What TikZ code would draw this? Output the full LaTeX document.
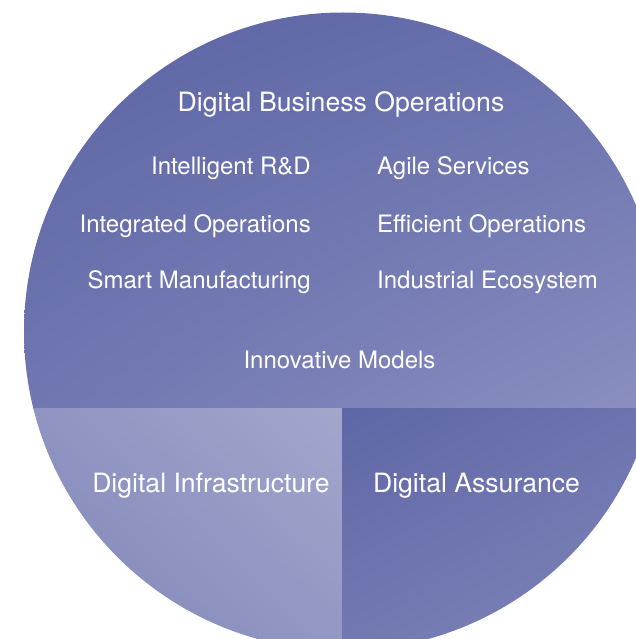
\documentclass[tikz,border=0pt]{standalone}
\usepackage{fontspec}
\setmainfont{TeX Gyre Heros}
\usetikzlibrary{shadings}
\definecolor{tUL}{HTML}{5B63A4}
\definecolor{tUR}{HTML}{6870AC}
\definecolor{tLL}{HTML}{6F76B0}
\definecolor{tLR}{HTML}{8B90C0}
\definecolor{lUL}{HTML}{8E93C1}
\definecolor{lUR}{HTML}{A3A7CC}
\definecolor{lLL}{HTML}{7D83B7}
\definecolor{lLR}{HTML}{9297C3}
\definecolor{rUL}{HTML}{5F66A6}
\definecolor{rUR}{HTML}{6E74AE}
\definecolor{rLL}{HTML}{737AB2}
\definecolor{rLR}{HTML}{8187B9}
\tikzset{
  big/.style={text=white, inner sep=0pt, font=\fontsize{26.6}{30}\selectfont},
  item/.style={text=white, inner sep=0pt, font=\fontsize{24}{28}\selectfont}
}
\begin{document}
\begin{tikzpicture}[x=1pt,y=-1pt]
\useasboundingbox (0,0) rectangle (636,639);
\begin{scope}
  \clip (0,0) rectangle (636,639);
  \clip (343,331.5) circle (319);
  \shade[upper left=tUL, upper right=tUR, lower left=tLL, lower right=tLR] (18,8) rectangle (666,408);
  \shade[upper left=lUL, upper right=lUR, lower left=lLL, lower right=lLR] (18,408) rectangle (342,655);
  \shade[upper left=rUL, upper right=rUR, lower left=rLL, lower right=rLR] (342,408) rectangle (666,655);
\end{scope}
\node[big, anchor=base] (dbo) at (341,112) {Digital Business Operations};
\node[item, anchor=base east] (ird) at (311,175) {Intelligent R\&D};
\node[item, anchor=base west] (ags) at (377,175) {Agile Services};
\node[item, anchor=base east] (iop) at (311,232) {Integrated Operations};
\node[item, anchor=base west] (eop) at (377,232) {Efficient Operations};
\node[item, anchor=base east] (smf) at (311,288) {Smart Manufacturing};
\node[item, anchor=base west] (ies) at (377,288) {Industrial Ecosystem};
\node[item, anchor=base] (inm) at (339.5,368) {Innovative Models};
\node[big, anchor=base] (dinf) at (211,492) {Digital Infrastructure};
\node[big, anchor=base] (dass) at (476.5,492) {Digital Assurance};
\end{tikzpicture}
\end{document}
